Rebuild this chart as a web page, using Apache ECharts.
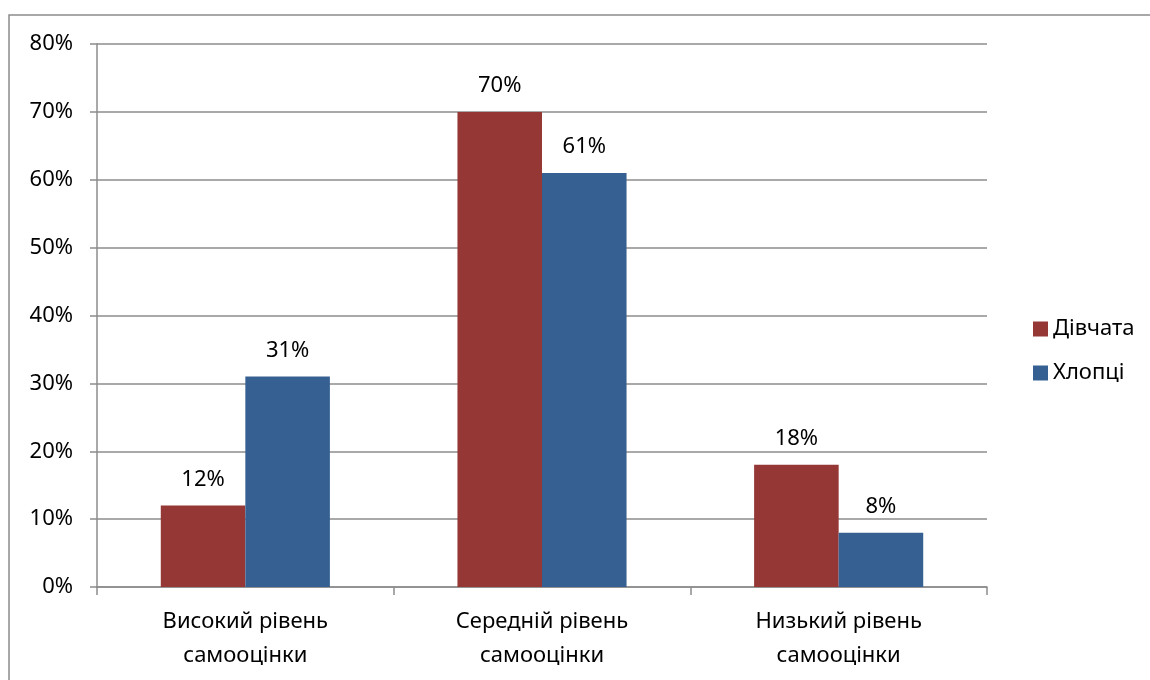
<!DOCTYPE html>
<html lang="uk">
<head>
    <meta charset="UTF-8">
    <title>Рівень самооцінки</title>
    <script src="https://cdn.jsdelivr.net/npm/echarts@6/dist/echarts.min.js"></script>
    <style>
        html, body { margin: 0; padding: 0; background: #fff; }
    </style>
</head>
<body>
<div id="chart" style="width:1150px;height:680px;"></div>
<script>
    var categories = ['Високий рівень\nсамооцінки', 'Середній рівень\nсамооцінки', 'Низький рівень\nсамооцінки'];
    var girls = [12, 70, 18];   // Дівчата
    var boys = [31, 61, 8];     // Хлопці
    var seriesNames = ['Дівчата', 'Хлопці'];

    var font = '"Noto Sans", "DejaVu Sans", sans-serif';
    var chart = echarts.init(document.getElementById('chart'));

    var label = {
        show: true,
        position: 'top',
        distance: 15,
        formatter: '{c}%',
        color: '#000',
        fontSize: 22,
        fontFamily: font
    };

    chart.setOption({
        animation: false,
        textStyle: { fontFamily: font },
        graphic: [{
            type: 'rect',
            shape: { x: 9, y: 15, width: 1200, height: 700 },
            style: { fill: 'none', stroke: '#8c8c8c', lineWidth: 1.5 },
            silent: true
        }],
        grid: { left: 97, right: 163, top: 44, bottom: 93 },
        legend: {
            orient: 'vertical',
            left: 1028,
            top: 313,
            itemWidth: 15,
            itemHeight: 15,
            itemGap: 22,
            icon: 'rect',
            textStyle: { fontSize: 22, color: '#000', fontFamily: font },
            data: seriesNames
        },
        xAxis: {
            type: 'category',
            data: categories,
            axisLine: { lineStyle: { color: '#8c8c8c', width: 1.5 } },
            axisTick: { show: true, length: 8, lineStyle: { color: '#8c8c8c', width: 1.5 } },
            axisLabel: { color: '#000', fontSize: 22, lineHeight: 34, margin: 18, fontFamily: font }
        },
        yAxis: {
            type: 'value',
            min: 0,
            max: 80,
            interval: 10,
            axisLine: { show: true, lineStyle: { color: '#8c8c8c', width: 1.5 } },
            axisTick: { show: true, length: 7, lineStyle: { color: '#8c8c8c', width: 1.5 } },
            axisLabel: { formatter: '{value}%', color: '#000', fontSize: 22, margin: 24, fontFamily: font },
            splitLine: { lineStyle: { color: '#8c8c8c', width: 1.5 } }
        },
        series: [
            {
                name: seriesNames[0],
                type: 'bar',
                data: girls,
                barGap: '0%',
                barCategoryGap: '43%',
                itemStyle: { color: '#953735' },
                label: label
            },
            {
                name: seriesNames[1],
                type: 'bar',
                data: boys,
                barGap: '0%',
                barCategoryGap: '43%',
                itemStyle: { color: '#376092' },
                label: label
            }
        ]
    });
</script>
</body>
</html>
